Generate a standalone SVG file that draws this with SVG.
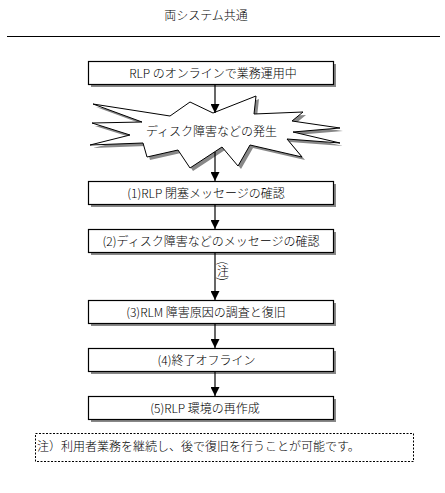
<svg xmlns="http://www.w3.org/2000/svg" width="445" height="493" viewBox="0 0 445 493">
<style>
text{font-family:"Noto Sans CJK JP","Noto Sans",sans-serif;font-size:12px;font-weight:300;fill:#000;text-anchor:middle}
.box{fill:#fff;stroke:#000;stroke-width:1.2}
.sh{fill:#888}
.con{stroke:#000;stroke-width:1.2;fill:none;marker-end:url(#ah)}
</style>
<defs>
<marker id="ah" viewBox="0 0 10 10" refX="10" refY="5" markerWidth="9" markerHeight="9" markerUnits="userSpaceOnUse" orient="auto">
<path d="M0,0 L10,5 L0,10 Z" fill="#000"/>
</marker>
<polygon id="star" points="93,104 170,116 190,102 213,113 256,96 254,114 303,112 292,121 340,128 293,132 340,143 287,139 302,157 250,145 238,166 222,147 190,168 178,150 147,157 143,143 90,145 130,135 92,123 142,122"/>
</defs>
<rect width="445" height="493" fill="#fff"/>
<g id="title">
<text x="206" y="20">両システム共通</text>
<line x1="7" y1="36.5" x2="440" y2="36.5" stroke="#000" stroke-width="1.2"/>
</g>
<g id="n0">
<rect class="sh" x="91" y="64" width="245" height="23"/>
<rect class="box" x="88.5" y="61.5" width="245" height="23"/>
<text x="213" y="77.5">RLP のオンラインで業務運用中</text>
</g>
<g id="star-node">
<use href="#star" transform="translate(3,3)" fill="#888"/>
<use href="#star" fill="#fff" stroke="#000" stroke-width="1"/>
<text x="211.5" y="136">ディスク障害などの発生</text>
</g>
<g id="n1">
<rect class="sh" x="91" y="184" width="245" height="23"/>
<rect class="box" x="88.5" y="181.5" width="245" height="23"/>
<text x="206" y="197.5">(1)RLP 閉塞メッセージの確認</text>
</g>
<g id="n2">
<rect class="sh" x="91" y="232" width="245" height="23"/>
<rect class="box" x="88.5" y="229.5" width="245" height="23"/>
<text x="211" y="245.5">(2)ディスク障害などのメッセージの確認</text>
</g>
<g id="n3">
<rect class="sh" x="91" y="303" width="245" height="23"/>
<rect class="box" x="88.5" y="300.5" width="245" height="23"/>
<text x="206" y="316.5">(3)RLM 障害原因の調査と復旧</text>
</g>
<g id="n4">
<rect class="sh" x="91" y="351" width="245" height="23"/>
<rect class="box" x="88.5" y="348.5" width="245" height="23"/>
<text x="206.5" y="364.5">(4)終了オフライン</text>
</g>
<g id="n5">
<rect class="sh" x="91" y="399" width="245" height="23"/>
<rect class="box" x="88.5" y="396.5" width="245" height="23"/>
<text x="205" y="412.5">(5)RLP 環境の再作成</text>
</g>
<g id="connectors">
<line class="con" x1="215" y1="85" x2="215" y2="113"/>
<line class="con" x1="215" y1="152" x2="215" y2="181"/>
<line class="con" x1="215" y1="205" x2="215" y2="229"/>
<line class="con" x1="215" y1="253" x2="215" y2="300"/>
<line class="con" x1="215" y1="324" x2="215" y2="348"/>
<line class="con" x1="215" y1="372" x2="215" y2="396"/>
<text x="223" y="271" style="writing-mode:vertical-rl;text-anchor:middle;font-size:12px">(注)</text>
</g>
<g id="note">
<rect x="35.5" y="433.5" width="378" height="28" fill="none" stroke="#000" stroke-width="1" stroke-dasharray="2 1.5"/>
<text x="37" y="451" style="text-anchor:start">注）利用者業務を継続し、後で復旧を行うことが可能です。</text>
</g>
</svg>
